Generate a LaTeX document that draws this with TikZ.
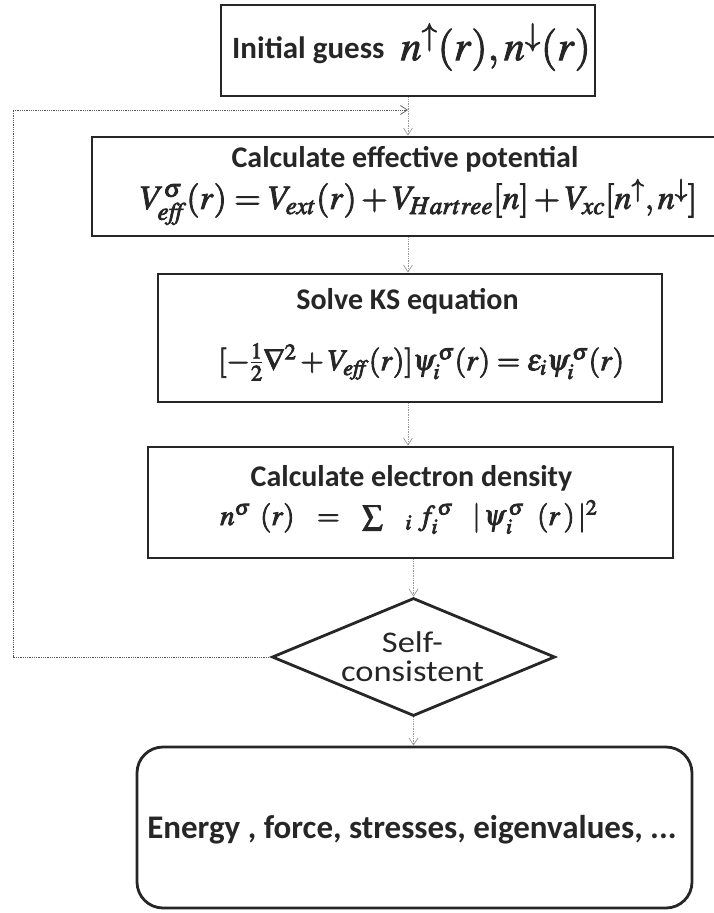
\documentclass[tikz,border=0pt]{standalone}
\usepackage{amsmath}
\usepackage{mathptmx}
\usepackage{fontspec}
\setmainfont{Carlito}
\usetikzlibrary{arrows.meta,shapes.geometric}
\definecolor{ink}{HTML}{262626}
\newcommand{\heavymath}[1]{\special{pdf:literal direct 2 Tr 0.8 w}#1\special{pdf:literal direct 0 Tr}}
\tikzset{
  stepbox/.style={draw=ink, line width=2.8pt, rectangle, inner sep=0pt},
  txt/.style={text=ink, inner sep=0pt, align=center},
  ttl/.style={txt, font=\fontsize{30}{32}\selectfont\bfseries},
  flow/.style={draw=gray!80, line width=0.7pt, densely dotted, -{Straight Barb[length=7pt,width=9pt,line width=0.7pt]}},
  loopline/.style={draw=gray!70!black, line width=0.8pt, densely dotted},
}
\begin{document}
\begin{tikzpicture}[x=1pt,y=-1pt]
\useasboundingbox (0,0) rectangle (714,913);
% box 1
\node[stepbox, minimum width=374pt, minimum height=91pt] (b1) at (408,50.5) {};
\node[txt, anchor=west, font=\fontsize{31}{34}\selectfont\bfseries] (b1t) at (232,50) {Initial guess};
\node[txt, anchor=east, font=\fontsize{42}{44}\selectfont\boldmath] (b1m) at (591,47) {\heavymath{$n^{\uparrow}(r),n^{\downarrow}(r)$}};
% box 2
\node[stepbox, minimum width=632pt, minimum height=99pt] (b2) at (408,186.5) {};
\node[ttl] (b2t) at (405,159) {Calculate effective potential};
\node[txt, anchor=west, font=\fontsize{34}{36}\selectfont\boldmath] (b2m) at (140,202)
  {\heavymath{$V^{\sigma}_{\mathit{eff}}(r)=V_{ext}(r)+V_{Hartree}[n]+V_{xc}[n^{\uparrow},n^{\downarrow}]$}};
% box 3
\node[stepbox, minimum width=504pt, minimum height=128pt] (b3) at (410,338) {};
\node[ttl] (b3t) at (407.5,301) {Solve KS equation};
\node[txt, anchor=west, font=\fontsize{30}{32}\selectfont\boldmath] (b3m) at (218,362)
  {\heavymath{$[-\tfrac{1}{2}\nabla^{2}+V_{\mathit{eff}}(r)]\psi_i^{\,\sigma}(r)=\varepsilon_i\psi_i^{\,\sigma}(r)$}};
% box 4
\node[stepbox, minimum width=525pt, minimum height=111pt] (b4) at (410.5,502.5) {};
\node[ttl] (b4t) at (411.5,478) {Calculate electron density};
\node[txt, anchor=west, font=\fontsize{29}{31}\selectfont\boldmath] (b4m) at (220,517)
  {\heavymath{$n^{\sigma}\;\,(r)\;\;\,=\;\;\,\sum\;\;\;{}_{i}\;f_i^{\,\sigma}\;\;\;|\,\psi_{\,i}^{\,\sigma}\;\;(r\,)\,|^{2}$}};
% decision
\node[draw=ink, line width=2.8pt, diamond, aspect=2.4, minimum width=283pt, minimum height=118pt, inner sep=0pt] (d) at (413.5,657) {};
\node[txt, font=\fontsize{30}{29}\selectfont] (dt) at (412.5,657) {\scalebox{1.15}[1]{Self-}\\\scalebox{1.15}[1]{consistent}};
% result
\node[draw=ink, line width=2.8pt, rounded corners=26pt, minimum width=555pt, minimum height=161pt] (b5) at (414.5,827.5) {};
\node[txt, font=\fontsize{33}{35}\selectfont\bfseries] (b5t) at (412,830) {Energy , force, stresses, eigenvalues, ...};
% connectors
\coordinate (cx) at (408,0);
\coordinate (lp) at (408,110);
\coordinate (lc) at (13,110);
\coordinate (ld) at (13,657);
\draw[flow] (b1.south -| cx) -- (b2.north -| cx);
\draw[flow] (b2.south -| cx) -- (b3.north -| cx);
\draw[flow] (b3.south -| cx) -- (b4.north -| cx);
\draw[flow] (b4.south -| d.north) -- (d.north);
\draw[flow] (d.south) -- (b5.north -| d.south);
\draw[loopline] (d.west) -- (ld) -- (lc);
\draw[loopline, -{Straight Barb[length=7pt,width=9pt,line width=0.7pt]}] (lc) -- (lp);
\end{tikzpicture}
\end{document}
